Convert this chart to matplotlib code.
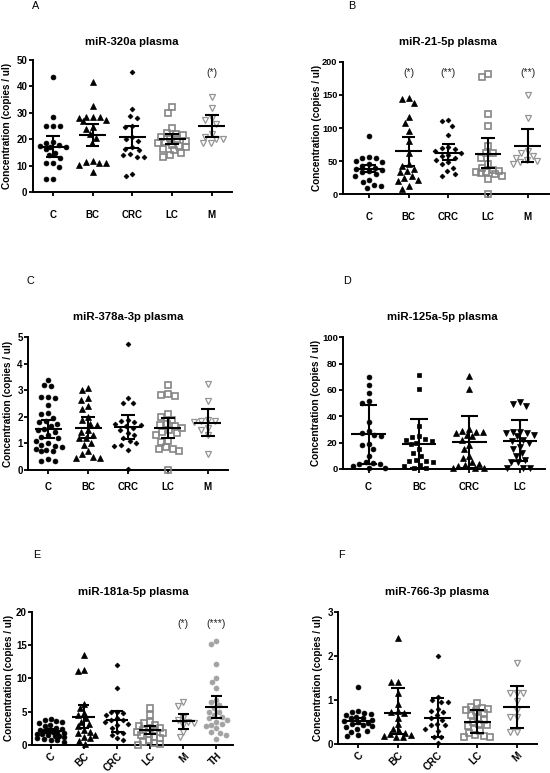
import numpy as np
import matplotlib
matplotlib.use("Agg")
import matplotlib.pyplot as plt

plt.rcParams['font.family'] = ['Liberation Sans', 'DejaVu Sans']

W, H = 550, 773
fig = plt.figure(figsize=(W / 100, H / 100), dpi=100)

# ---------------- data ----------------
groups5 = ["C", "BC", "CRC", "LC", "M"]
groups4 = ["C", "BC", "CRC", "LC"]
groups6 = ["C", "BC", "CRC", "LC", "M", "TH"]

# A: miR-320a plasma
a_C = [43.5, 28.5, 25, 25, 25, 18, 19, 17.5, 17, 16.5, 18.5, 17, 14, 11, 11, 9.5, 13, 5, 5.2, 15]
a_BC = [41.8, 32.5, 28.5, 28.5, 28.5, 28, 27.5, 27, 24.5, 24, 22, 20.5, 18.5, 11.5, 11, 10.5, 11, 12, 7.5]
a_CRC = [45.5, 31.5, 28, 29, 25, 24.5, 21, 20, 19.5, 17, 16.5, 16, 14, 13.5, 13.5, 14.5, 6, 7]
a_LC = [32.2, 30, 24.2, 22.5, 22, 21.5, 21, 20.5, 20, 19.5, 19, 18.5, 18, 17.5, 17, 16.5, 16, 15, 14, 13.5]
a_M = [36, 32, 28, 27.5, 26, 22, 21, 20, 20, 18.5, 18.5]
a_mean = [17.3, 21.8, 20.8, 20.1, 25.1]
a_lo = [13.5, 17.5, 16.6, 18.2, 21.0]
a_hi = [21.4, 26.0, 25.0, 22.0, 29.3]
a_sig = ["", "", "", "", "(*)"]

# B: miR-21-5p plasma
b_C = [88, 56, 55, 54, 50, 48, 45, 42, 40, 38, 37, 35, 33, 30, 28, 22, 18, 14, 12, 10]
b_BC = [145, 143, 138, 116, 107, 95, 80, 62, 45, 43, 38, 35, 33, 28, 25, 22, 20, 12, 8]
b_CRC = [112, 110, 103, 89, 72, 70, 68, 65, 63, 60, 58, 55, 52, 48, 45, 40, 35, 30, 28]
b_LC = [182, 177, 121, 103, 73, 63, 62, 55, 45, 40, 37, 35, 34, 33, 32, 30, 28, 23, 1]
b_M = [150, 115, 65, 62, 58, 55, 52, 50, 48, 45]
b_mean = [38, 65, 63, 61, 73]
b_lo = [33, 42, 51, 40, 49]
b_hi = [44, 86, 76, 85, 98]
b_sig = ["", "(*)", "(**)", "", "(**)"]

# C: miR-378a-3p plasma
c_C = [3.4, 3.2, 3.15, 2.75, 2.7, 2.75, 2.45, 2.15, 2.1, 1.95, 1.85, 1.8, 1.75, 1.65, 1.55, 1.5,
       1.45, 1.3, 1.25, 1.2, 1.1, 1.0, 0.95, 0.9, 0.85, 0.8, 0.75, 0.7, 0.7, 0.4, 0.35, 0.35]
c_BC = [3.1, 3.0, 2.7, 2.65, 2.4, 2.3, 2.0, 1.9, 1.75, 1.7, 1.5, 1.45, 1.3, 1.2, 1.2, 1.0, 0.95,
        0.7, 0.6, 0.5, 0.45, 0.45]
c_CRC = [4.75, 2.7, 2.52, 2.52, 1.9, 1.85, 1.8, 1.75, 1.7, 1.65, 1.6, 1.5, 1.4, 1.3, 1.2, 1.1,
         1.0, 0.95, 0.9, 0.75, 0.05]
c_LC = [3.2, 2.85, 2.8, 2.82, 2.1, 2.0, 1.9, 1.75, 1.7, 1.65, 1.6, 1.5, 1.45, 1.4, 1.3, 1.1,
        1.05, 0.85, 0.8, 0.7, 0.8, 0.0]
c_M = [3.25, 2.6, 1.9, 1.85, 1.85, 1.8, 1.6, 1.5, 1.3, 0.6]
c_mean = [1.56, 1.6, 1.62, 1.57, 1.78]
c_lo = [1.2, 1.2, 1.15, 1.2, 1.27]
c_hi = [1.9, 1.98, 2.07, 1.95, 2.3]

# D: miR-125a-5p plasma
d_C = [70, 64, 58, 52, 50, 36, 29, 27, 26, 25, 19, 18, 15, 10, 5, 4.5, 4, 4, 2, 1, 0.5]
d_BC = [71, 61, 33, 25, 24, 23, 22, 21, 20, 19, 15, 12, 10, 7, 6, 6, 5, 3, 2, 1, 0.5]
d_CRC = [70.5, 60.5, 30, 29, 28, 28, 27, 26, 25, 22, 18, 15, 10, 8, 5, 4, 3, 2, 1, 0.5, 0.5]
d_LC = [51, 49, 48, 28, 28, 27, 27, 26, 25, 22, 21, 20, 17, 15, 12, 10, 7, 5, 5, 1, 0.5, 0.5]
d_mean = [26.3, 19.3, 20.5, 21.5]
d_lo = [4.0, 1.0, 0.5, 6.0]
d_hi = [48.3, 38.0, 40.5, 37.0]

# E: miR-181a-5p plasma
e_C = [3.9, 3.7, 3.6, 3.5, 3.3, 3.0, 2.8, 2.6, 2.4, 2.3, 2.2, 2.1, 2.0, 1.9, 1.8, 1.7, 1.6,
       1.5, 1.4, 1.3, 1.2, 1.0, 0.9, 0.8, 0.7, 0.5]
e_BC = [13.5, 11.2, 11.1, 6.2, 5.5, 4.8, 4.5, 4.0, 3.5, 3.2, 2.8, 2.2, 2.0, 1.8, 1.5, 1.2, 1.0, 0.6, 0.2]
e_CRC = [12, 8.6, 5.0, 5.0, 4.8, 4.5, 4.0, 3.8, 3.7, 3.5, 3.2, 3.0, 2.5, 2.0, 1.8, 1.5, 1.0, 0.8]
e_LC = [5.5, 4.5, 3.5, 3.3, 3.0, 2.8, 2.6, 2.5, 2.3, 2.2, 2.0, 1.8, 1.7, 1.5, 1.2, 1.0, 0.8,
        0.5, 0.3, 0.1, 0.0]
e_M = [6.4, 5.9, 4.0, 3.7, 3.5, 3.3, 3.0, 2.0, 1.2]
e_TH = [15.6, 15.2, 12.2, 10.1, 9.5, 8.6, 6.8, 6.5, 6.0, 5.5, 5.0, 5.0, 4.5, 4.2, 4.0, 3.8,
        3.5, 3.2, 3.0, 2.8, 2.5, 2.0, 1.8, 1.5, 0.9]
e_mean = [2.1, 4.2, 3.75, 2.2, 3.6, 5.75]
e_lo = [1.8, 2.6, 2.0, 1.7, 2.4, 4.1]
e_hi = [2.4, 6.0, 5.1, 2.8, 4.7, 7.3]
e_sig = ["", "", "", "", "(*)", "(***)"]

# F: miR-766-3p plasma
f_C = [1.3, 0.75, 0.72, 0.7, 0.68, 0.65, 0.62, 0.6, 0.58, 0.55, 0.52, 0.5, 0.48, 0.45, 0.42,
       0.4, 0.38, 0.35, 0.3, 0.28, 0.2, 0.18]
f_BC = [2.4, 1.4, 1.4, 1.15, 0.9, 0.75, 0.72, 0.7, 0.6, 0.45, 0.35, 0.3, 0.25, 0.22, 0.2, 0.18, 0.17, 0.16]
f_CRC = [2.0, 1.07, 1.0, 0.95, 0.95, 0.8, 0.75, 0.72, 0.65, 0.6, 0.55, 0.45, 0.42, 0.42, 0.35,
         0.3, 0.17, 0.16, 0.03]
f_LC = [0.92, 0.85, 0.82, 0.8, 0.78, 0.75, 0.7, 0.65, 0.6, 0.55, 0.5, 0.45, 0.42, 0.4, 0.35,
        0.3, 0.25, 0.2, 0.18, 0.16, 0.15]
f_M = [1.83, 1.15, 1.15, 1.15, 0.97, 0.77, 0.62, 0.62, 0.28, 0.28]
f_mean = [0.53, 0.71, 0.6, 0.51, 0.85]
f_lo = [0.45, 0.22, 0.17, 0.25, 0.37]
f_hi = [0.6, 1.27, 1.05, 0.78, 1.32]

# ---------------- styles ----------------
GREY = '#858585'
STY = {
    'circle': dict(marker='o', mfc='black', mec='black', ms=3.5, mew=0.5),
    'tri': dict(marker='^', mfc='black', mec='black', ms=3.8, mew=0.5),
    'diam': dict(marker='D', mfc='black', mec='black', ms=2.5, mew=0.5),
    'osq': dict(marker='s', mfc='none', mec=GREY, ms=3.7, mew=1.2),
    'otri': dict(marker='v', mfc='none', mec='#949494', ms=4.4, mew=0.9),
    'gcirc': dict(marker='o', mfc='#a3a3a3', mec='#a3a3a3', ms=3.6, mew=0.5),
    'sq': dict(marker='s', mfc='black', mec='black', ms=3.4, mew=0.5),
    'vtri': dict(marker='v', mfc='black', mec='black', ms=3.8, mew=0.5),
}


def px_axes(l, r, t, b):
    return fig.add_axes([l / W, 1 - b / H, (r - l) / W, (b - t) / H])


def swarm_x(ax, x0, vals, dpx, maxu):
    p0 = ax.transData.transform((0, 0))
    p1 = ax.transData.transform((1, 1))
    ppx, ppy = p1[0] - p0[0], p1[1] - p0[1]
    vals = np.asarray(vals, float)
    ys = vals * ppy
    order = np.argsort(-vals, kind='stable')
    placed = []
    xs = np.zeros(len(vals))
    limit = maxu * ppx
    for i in order:
        y = ys[i]
        cands = [0.0]
        for (qx, qy) in placed:
            dy = y - qy
            if abs(dy) < dpx:
                dx = np.sqrt(dpx ** 2 - dy ** 2)
                cands += [qx + dx, qx - dx]

        def mind(c):
            if not placed:
                return 1e9
            return min(np.hypot(c - qx, y - qy) for qx, qy in placed)
        valid = [c for c in cands if mind(c) >= dpx - 1e-6 and abs(c) <= limit + 1e-6]
        if valid:
            best = min(valid, key=lambda c: (abs(c), c))
        else:
            grid = list(np.linspace(-limit, limit, 13))
            best = max(grid, key=mind)
        placed.append((best, y))
        xs[i] = x0 + best / ppx
    return xs


def panel(rect, ylim, yticks, data, styles, mean, lo, hi, labels, rotate,
          xpad=9, dpx=7.0, maxu=0.36, sig=None, sig_y=None, xlim=None, ytfs=7):
    ax = px_axes(*rect)
    n = len(data)
    ax.set_xlim(xlim if xlim else (-0.5, n - 0.5))
    ax.set_ylim(ylim)
    for s in ['top', 'right']:
        ax.spines[s].set_visible(False)
    for s in ['left', 'bottom']:
        ax.spines[s].set_linewidth(1.4)
    ax.set_yticks(yticks)
    ax.set_xticks(range(n))
    ax.tick_params(axis='both', length=3, width=1.3, direction='out', pad=1.5)
    ax.tick_params(axis='y', pad=1.0)
    for lab in ax.get_yticklabels():
        lab.set_fontweight('bold')
        lab.set_fontsize(ytfs)
    if rotate:
        ax.set_xticklabels(labels, rotation=45, ha='right', rotation_mode='anchor',
                           fontsize=7.3, fontweight='bold')
    else:
        ax.set_xticklabels(labels, fontsize=7, fontweight='bold')
        ax.tick_params(axis='x', pad=xpad)
    for i, (vals, st) in enumerate(zip(data, styles)):
        xs = swarm_x(ax, i, vals, dpx, maxu)
        ax.plot(xs, vals, linestyle='none', zorder=3, clip_on=False, **STY[st])
        ax.hlines(mean[i], i - 0.34, i + 0.34, color='black', lw=1.5, zorder=5)
        ax.vlines(i, lo[i], hi[i], color='black', lw=1.5, zorder=5)
        ax.hlines([lo[i], hi[i]], i - 0.17, i + 0.17, color='black', lw=1.5, zorder=5)
    if sig is not None:
        for i, s in enumerate(sig):
            if s:
                ax.text(i, sig_y, s, ha='center', va='center', fontsize=7.5, color='#222222')
    ax.set_ylabel("Concentration (copies / ul)", fontsize=7.2, fontweight='bold')
    ax.yaxis.label.set_va('center')
    return ax


def ftext(x, y, s, **kw):
    fig.text(x / W, 1 - y / H, s, **kw)


# A
axA = panel((33, 231.7, 60, 192.3), (0, 50), [0, 10, 20, 30, 40, 50],
            [a_C, a_BC, a_CRC, a_LC, a_M], ['circle', 'tri', 'diam', 'osq', 'otri'],
            a_mean, a_lo, a_hi, groups5, False, xpad=10, sig=a_sig, sig_y=45)
# B
axB = panel((343, 549, 61.7, 194.3), (0, 200), [0, 50, 100, 150, 200],
            [b_C, b_BC, b_CRC, b_LC, b_M], ['circle', 'tri', 'diam', 'osq', 'otri'],
            b_mean, b_lo, b_hi, groups5, False, xpad=10, sig=b_sig, sig_y=183,
            xlim=(-0.66, 4.54), ytfs=6.6)
# C
axC = panel((28.3, 227.7, 337.3, 470), (0, 5), [0, 1, 2, 3, 4, 5],
            [c_C, c_BC, c_CRC, c_LC, c_M], ['circle', 'tri', 'diam', 'osq', 'otri'],
            c_mean, c_lo, c_hi, groups5, False, xpad=6)
# D
axD = panel((343.3, 545, 337.3, 469), (0, 100), [0, 20, 40, 60, 80, 100],
            [d_C, d_BC, d_CRC, d_LC], ['circle', 'sq', 'tri', 'vtri'],
            d_mean, d_lo, d_hi, groups4, False, xpad=6, maxu=0.32, ytfs=6.8)
# E
axE = panel((32.3, 233, 611.7, 745), (0, 20), [0, 5, 10, 15, 20],
            [e_C, e_BC, e_CRC, e_LC, e_M, e_TH], ['circle', 'tri', 'diam', 'osq', 'otri', 'gcirc'],
            e_mean, e_lo, e_hi, groups6, True, maxu=0.4, dpx=6.0,
            sig=e_sig, sig_y=18.2, xlim=(-0.55, 5.5))
# F
axF = panel((338.3, 536.7, 611.7, 744), (0, 3), [0, 1, 2, 3],
            [f_C, f_BC, f_CRC, f_LC, f_M], ['circle', 'tri', 'diam', 'osq', 'otri'],
            f_mean, f_lo, f_hi, groups5, True, dpx=6.5)

# y label positions (pixel x of label centre)
for ax, x in [(axA, 7.5), (axB, 316.5), (axC, 8.5), (axD, 316), (axE, 8.5), (axF, 318)]:
    bb = ax.get_position()
    ax.yaxis.set_label_coords((x / W - bb.x0) / bb.width, 0.5)

titles = [("miR-320a plasma", 132, 42), ("miR-21-5p plasma", 448, 42),
          ("miR-378a-3p plasma", 128, 317), ("miR-125a-5p plasma", 442, 317),
          ("miR-181a-5p plasma", 133, 592), ("miR-766-3p plasma", 437, 592)]
for s, x, y in titles:
    ftext(x, y, s, ha='center', va='center', fontsize=8.2, fontweight='bold')

letters = [("A", 36, 6), ("B", 352, 6), ("C", 30, 281), ("D", 347, 281),
           ("E", 37, 555), ("F", 341.5, 555)]
for s, x, y in letters:
    ftext(x, y, s, ha='center', va='center', fontsize=7.8)

fig.savefig("out.png", dpi=100)
